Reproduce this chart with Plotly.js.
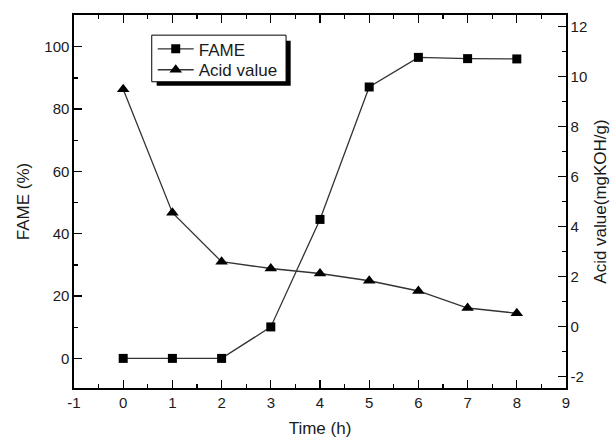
<!DOCTYPE html>
<html>
<head>
<meta charset="utf-8">
<script src="https://cdn.plot.ly/plotly-3.0.1.min.js"></script>
<style>html,body{margin:0;padding:0;background:#fff;}#chart{width:614px;height:441px;}</style>
</head>
<body>
<div id="chart"></div>
<script>
// ---- data ----
const timeH = [0, 1, 2, 3, 4, 5, 6, 7, 8];
const fame = [0, 0, 0, 10.1, 44.6, 87.1, 96.6, 96.2, 96.1];
const acidValue = [9.5, 4.56, 2.6, 2.33, 2.13, 1.84, 1.43, 0.75, 0.54];
const seriesNames = ["FAME", "Acid value"];
const xTickVals = [-1, 0, 1, 2, 3, 4, 5, 6, 7, 8, 9];
const xTickText = ["-1", "0", "1", "2", "3", "4", "5", "6", "7", "8", "9"];
const y2TickVals = [-2, 0, 2, 4, 6, 8, 10, 12];
const y2TickText = ["-2", "0", "2", "4", "6", "8", "10", "12"];

const FONT = "Liberation Sans, Arial, sans-serif";
const INK = "#1a1a1a";
const LINE = "#333333";

const traces = [
  {
    x: timeH, y: fame, name: seriesNames[0], type: "scatter", mode: "lines+markers",
    line: {color: LINE, width: 1.3},
    marker: {symbol: "square", size: 9, color: "#000"},
    yaxis: "y", legend: "legend"
  },
  {
    x: timeH, y: acidValue, name: seriesNames[1], type: "scatter", mode: "lines+markers",
    line: {color: LINE, width: 1.3},
    marker: {symbol: "triangle-up", size: 11, color: "#000"},
    yaxis: "y2", legend: "legend2"
  }
];

const axisCommon = {
  showgrid: false, zeroline: false, showline: true, linecolor: "#000", linewidth: 1.6,
  ticks: "inside", ticklen: 8, tickwidth: 1.3, tickcolor: "#000",
  tickfont: {family: FONT, size: 15, color: INK}
};

const legendCommon = {
  xanchor: "left", yanchor: "middle",
  bgcolor: "rgba(0,0,0,0)", borderwidth: 0,
  font: {family: FONT, size: 17, color: INK},
  itemwidth: 36
};

const layout = {
  width: 614, height: 441,
  paper_bgcolor: "#fff", plot_bgcolor: "#fff",
  margin: {l: 74, r: 48, t: 15, b: 53},
  font: {family: FONT, color: INK},
  showlegend: true,
  legend: Object.assign({}, legendCommon, {x: 0.16, y: 0.908}),
  legend2: Object.assign({}, legendCommon, {x: 0.16, y: 0.852}),
  xaxis: Object.assign({}, axisCommon, {
    range: [-1, 9], tickvals: xTickVals, ticktext: xTickText, mirror: "ticks",
    minor: {dtick: 0.5, ticks: "inside", ticklen: 4, tickwidth: 1.2, tickcolor: "#000"},
    title: {text: "Time (h)", font: {family: FONT, size: 17, color: INK}, standoff: 12}
  }),
  yaxis: Object.assign({}, axisCommon, {
    range: [-9.5, 110.2], dtick: 20, tick0: 0,
    minor: {dtick: 10, ticks: "inside", ticklen: 4, tickwidth: 1.2, tickcolor: "#000"},
    title: {text: "FAME (%)", font: {family: FONT, size: 17, color: INK}, standoff: 10}
  }),
  yaxis2: Object.assign({}, axisCommon, {
    overlaying: "y", side: "right",
    range: [-2.45, 12.47], tickvals: y2TickVals, ticktext: y2TickText,
    minor: {dtick: 1, ticks: "inside", ticklen: 4, tickwidth: 1.2, tickcolor: "#000"},
    title: {text: "Acid value(mgKOH/g)", font: {family: FONT, size: 17, color: INK}, standoff: 8}
  }),
  shapes: [
    // legend drop shadow
    {type: "rect", xref: "paper", yref: "paper", layer: "above",
     x0: 0.168, x1: 0.4404, y0: 0.810, y1: 0.931,
     fillcolor: "#000", line: {width: 0}},
    // legend box
    {type: "rect", xref: "paper", yref: "paper", layer: "above",
     x0: 0.158, x1: 0.431, y0: 0.821, y1: 0.946,
     fillcolor: "#fff", line: {color: "#000", width: 1}}
  ]
};

Plotly.newPlot("chart", traces, layout, {displayModeBar: false, staticPlot: true});
</script>
</body>
</html>
